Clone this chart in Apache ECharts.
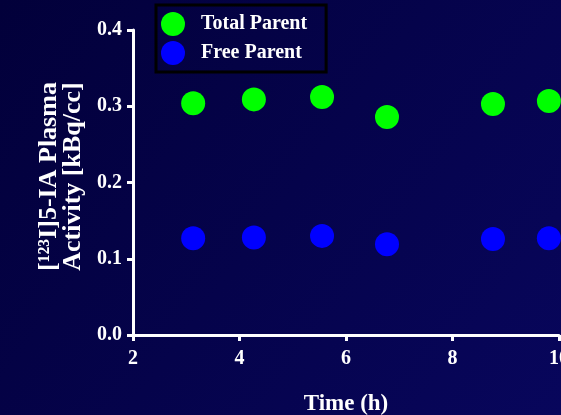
<!DOCTYPE html>
<html>
<head>
<meta charset="utf-8">
<style>
  html, body { margin: 0; padding: 0; background: #03003e; }
  #chart { width: 561px; height: 415px; }
</style>
<script src="https://cdn.jsdelivr.net/npm/echarts@6/dist/echarts.min.js"></script>
</head>
<body>
<div id="chart"></div>
<script>
// Sampling times (h) and plasma activity (kBq/cc)
const times = [3.13, 4.27, 5.55, 6.77, 8.76, 9.81];
const totalParent = [0.304, 0.309, 0.312, 0.286, 0.303, 0.307];
const freeParent = [0.127, 0.128, 0.130, 0.119, 0.126, 0.127];
const seriesNames = ['Total Parent', 'Free Parent'];
const xTicks = [2, 4, 6, 8, 10];
const yTicks = [0.0, 0.1, 0.2, 0.3, 0.4];

const FONT = '"Liberation Serif", "Times New Roman", serif';
const chart = echarts.init(document.getElementById('chart'));

const pairs = (xs, ys) => xs.map((x, i) => [x, ys[i]]);

chart.setOption({
  backgroundColor: {
    type: 'linear', x: 0, y: 0, x2: 1, y2: 1,
    colorStops: [
      { offset: 0, color: '#02003a' },
      { offset: 1, color: '#08065c' }
    ]
  },
  animation: false,
  legend: {
    orient: 'vertical',
    left: 156,
    top: 5,
    padding: [7, 19, 7, 5],
    itemGap: 5,
    itemWidth: 24,
    itemHeight: 24,
    icon: 'circle',
    borderColor: '#000000',
    borderWidth: 3,
    data: seriesNames,
    textStyle: {
      color: '#ffffff',
      fontFamily: FONT,
      fontWeight: 'bold',
      fontSize: 20,
      padding: [0, 0, 0, 11]
    }
  },
  grid: { left: 133, right: 2, top: 30, bottom: 80, containLabel: false, outerBoundsMode: 'none' },
  xAxis: {
    type: 'value',
    min: xTicks[0],
    max: xTicks[xTicks.length - 1],
    interval: 2,
    name: 'Time (h)',
    nameLocation: 'middle',
    nameGap: 58,
    nameTextStyle: { color: '#ffffff', fontFamily: FONT, fontWeight: 'bold', fontSize: 23 },
    axisLine: { lineStyle: { color: '#ffffff', width: 3 } },
    axisTick: { length: 6, lineStyle: { color: '#ffffff', width: 3 } },
    axisLabel: { color: '#ffffff', fontFamily: FONT, fontWeight: 'bold', fontSize: 20, margin: 14, showMaxLabel: true },
    splitLine: { show: false }
  },
  yAxis: {
    type: 'value',
    min: yTicks[0],
    max: yTicks[yTicks.length - 1],
    interval: 0.1,
    name: '[\u00B9\u00B2\u00B3I]5-IA Plasma\nActivity [kBq/cc]',
    nameLocation: 'middle',
    nameRotate: 90,
    nameGap: 48,
    nameTextStyle: {
      color: '#ffffff',
      fontFamily: FONT,
      fontWeight: 'bold',
      fontSize: 26,
      lineHeight: 24,
      padding: [0, 0, 0, 12]
    },
    axisLine: { show: true, lineStyle: { color: '#ffffff', width: 3 } },
    axisTick: { show: true, length: 6, lineStyle: { color: '#ffffff', width: 3 } },
    axisLabel: {
      color: '#ffffff', fontFamily: FONT, fontWeight: 'bold', fontSize: 20, margin: 11,
      formatter: v => v.toFixed(1)
    },
    splitLine: { show: false }
  },
  series: [
    {
      name: seriesNames[0],
      type: 'scatter',
      symbol: 'circle',
      symbolSize: 24,
      itemStyle: { color: '#00ff00', opacity: 1 },
      data: pairs(times, totalParent)
    },
    {
      name: seriesNames[1],
      type: 'scatter',
      symbol: 'circle',
      symbolSize: 24,
      itemStyle: { color: '#0000ff', opacity: 1 },
      data: pairs(times, freeParent)
    }
  ]
});
</script>
</body>
</html>
